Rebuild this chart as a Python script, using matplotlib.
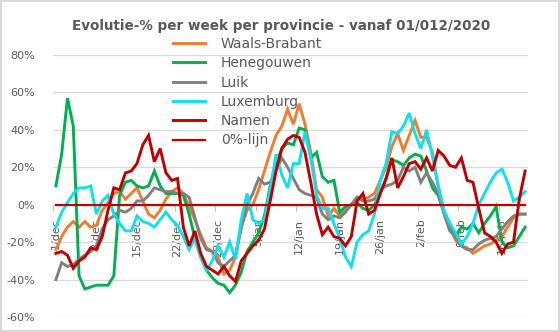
import numpy as np
import matplotlib
matplotlib.use("Agg")
import matplotlib.pyplot as plt
from matplotlib.ticker import FixedLocator, FuncFormatter

title = "Evolutie-% per week per provincie - vanaf 01/012/2020"
tick_labels = ["1/dec", "8/dec", "15/dec", "22/dec", "29/dec", "5/jan",
               "12/jan", "19/jan", "26/jan", "2/feb", "9/feb", "16/feb"]
series_names = ["Waals-Brabant", "Henegouwen", "Luik", "Luxemburg", "Namen", "0%-lijn"]

waals_brabant = [-24, -17, -12, -9, -12, -9, -12, -11, -3, 1,
                 6, 7, 3, 6, 9, 2, -5, -7, -3, 3,
                 7, 9, 6, -1, -8, -16, -23, -25, -28, -37,
                 -35, -28, -12, -3, 0, 8, 18, 28, 37, 42,
                 51, 43, 54, 43, 28, 8, 4, -6, -2, -6,
                 -3, 0, 4, 3, 4, 6, 13, 20, 31, 38,
                 29, 37, 45, 36, 36, 28, 10, -3, -12, -19,
                 -22, -23, -26, -24, -22, -21, -19, -17, -12, -7,
                 -5, -5]
henegouwen = [10, 27, 57, 42, -38, -45, -44, -43, -43, -43,
              -38, 5, 12, 13, 10, 9, 10, 18, 10, 6,
              6, 6, 5, -5, -18, -28, -35, -39, -42, -43,
              -47, -43, -36, -25, -20, -15, -6, 10, 22, 30,
              33, 32, 41, 40, 25, 28, 15, 12, 13, -4,
              -1, 0, 1, -2, -3, 0, 6, 14, 24, 23,
              21, 25, 27, 26, 18, 9, 5, -4, -10, -17,
              -12, -13, -10, -15, -10, -6, -1, -20, -23, -22,
              -17, -12]
luik = [-40, -31, -33, -32, -29, -27, -25, -22, -13, -8,
        -6, -3, -4, -2, 2, 2, 5, 9, 8, 7,
        7, 6, 6, 4, -7, -18, -24, -25, -31, -33,
        -30, -27, -12, 0, 6, 14, 11, 12, 18, 25,
        20, 14, 8, 6, 5, 4, -5, -8, -6, -7,
        -4, 0, 4, 2, 2, 3, 8, 10, 11, 13,
        20, 18, 20, 12, 17, 12, 6, -5, -14, -17,
        -22, -24, -24, -21, -19, -18, -17, -13, -9, -6,
        -5, -5]
luxemburg = [-12, -4, 1, 6, 9, 9, 10, -5, 2, 5,
             -5, -10, -14, -14, -6, -9, -10, -12, -8, -4,
             -8, -11, -17, -24, -18, -28, -35, -30, -22, -28,
             -20, -29, -8, 6, -8, -10, -8, 8, 27, 16,
             9, 22, 22, 39, 25, 5, -2, -2, -10, -18,
             -28, -33, -20, -16, -14, -5, 13, 22, 39, 38,
             42, 49, 38, 30, 40, 26, 10, -3, -10, -15,
             -21, -17, -10, 0, 6, 12, 17, 19, 12, 2,
             4, 7]
namen = [-26, -25, -27, -34, -30, -28, -23, -24, -17, -3,
         9, 8, 17, 18, 22, 32, 37, 23, 30, 17,
         13, 14, -12, -22, -14, -26, -33, -35, -37, -33,
         -38, -41, -30, -26, -22, -19, -13, 2, 18, 30,
         35, 37, 36, 28, 12, -5, -16, -12, -17, -18,
         -22, -17, 2, 6, -5, -3, 6, 14, 25, 9,
         15, 22, 23, 19, 25, 18, 29, 26, 21, 20,
         25, 13, 12, -2, -15, -17, -20, -26, -21, -20,
         3, 18]
nul_lijn = [0] * len(namen)

colors = ["#ED7D31", "#00B050", "#808080", "#0FE0F0", "#C00000", "#C00000"]
series = [waals_brabant, henegouwen, luik, luxemburg, namen, nul_lijn]

gray_txt = "#595959"
fig = plt.figure(figsize=(5.6, 3.32), dpi=100)
fig.patch.set_edgecolor("#D9D9D9")
fig.patch.set_linewidth(1.5)
ax = fig.add_axes([53 / 560, 1 - 317 / 332, 475 / 560, 262 / 332])

n = len(namen)
x = np.arange(n)
handles = []
for k, (vals, col, name) in enumerate(zip(series, colors, series_names)):
    lw = 2.1 if k < 5 else 1.6
    h, = ax.plot(x, vals, color=col, lw=lw, label=name, zorder=3 + k,
                 solid_joinstyle="miter")
    handles.append(h)

ax.set_xlim(-0.5, n - 0.5)
ax.set_ylim(-60, 80)
ax.yaxis.set_major_locator(FixedLocator(np.arange(-60, 81, 20)))
ax.yaxis.set_major_formatter(FuncFormatter(lambda v, p: f"{int(round(v))}%"))
ax.grid(axis="y", color="#D9D9D9", lw=0.9, zorder=0)
ax.tick_params(axis="y", length=0, pad=13, labelsize=8, labelcolor=gray_txt)
for s in ["left", "right", "top"]:
    ax.spines[s].set_visible(False)
ax.spines["bottom"].set_position(("data", 0))
ax.spines["bottom"].set_visible(False)

label_pos = np.arange(0, n, 7)[:len(tick_labels)]
ax.xaxis.set_major_locator(FixedLocator(label_pos - 0.5))
ax.xaxis.set_major_formatter(FuncFormatter(lambda v, p: ""))
ax.xaxis.set_minor_locator(FixedLocator(label_pos))
ax.set_xticklabels(tick_labels, minor=True)
ax.tick_params(axis="x", which="major", length=4, color="#BFBFBF", width=0.8)
ax.tick_params(axis="x", which="minor", length=0, pad=10, labelsize=8,
               labelcolor=gray_txt, labelrotation=90)
for t in ax.get_xticklabels(minor=True):
    t.set_va("top")
    t.set_ha("center")

fig.text(281 / 560, 1 - 26 / 332, title, ha="center", va="center",
         fontsize=9.75, fontweight="bold", color=gray_txt,
         family="DejaVu Sans")

leg = fig.legend(handles=handles, loc="upper left",
                 bbox_to_anchor=(173 / 560, 1 - 37 / 332),
                 bbox_transform=fig.transFigure, frameon=False,
                 fontsize=10, handlelength=2.3, handletextpad=1.15,
                 labelspacing=0.38, borderpad=0, borderaxespad=0)
for t in leg.get_texts():
    t.set_color(gray_txt)
leg.set_zorder(20)

fig.savefig("out.png", dpi=100)
